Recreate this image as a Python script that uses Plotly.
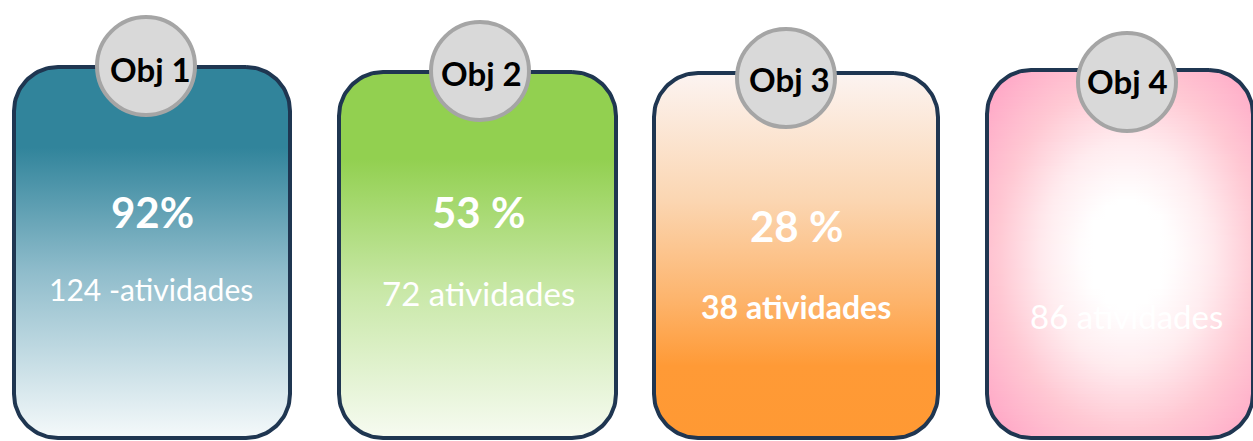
import numpy as np
import plotly.graph_objects as go

# ---- data (text values) ----
objectives = ["Obj 1", "Obj 2", "Obj 3", "Obj 4"]
percent_labels = ["92%", "53 %", "28 %", ""]
activity_labels = ["124 -atividades", "72 atividades", "38 atividades", "86 atividades"]

# ---- layout / styling (pixel geometry, not data) ----
W, H = 1253, 441
cards = [  # left, right, top, bottom (outer border edges)
    (12, 292, 65, 440),
    (337, 618, 70, 440),
    (652, 940, 71, 440),
    (985, 1255, 68, 440),
]
circles = [  # cx, cy, r
    (146, 66, 51),
    (480, 71, 51),
    (786, 78, 51),
    (1127, 82, 51),
]
obj_text_pos = [(150, 69), (481, 73), (789, 79), (1127, 81)]
pct_pos = [(152, 212), (478, 212), (796, 226), (1126, 230)]
act_pos = [(151, 289), (478, 293), (796, 306), (1126, 316)]
act_bold = [False, False, True, False]
act_size = [30, 33, 32, 33]
gradients = [
    dict(type="vertical", colorscale=[[0, "#31849b"], [0.22, "#31849b"], [0.55, "#8fbccb"], [1, "#f6fafb"]]),
    dict(type="vertical", colorscale=[[0, "#92d050"], [0.24, "#92d050"], [0.6, "#c9e8a8"], [1, "#f7fbf2"]]),
    dict(type="vertical", colorscale=[[0, "#fcf4f2"], [0.35, "#fbd6b2"], [0.62, "#fdb46c"], [0.8, "#ff9a36"], [1, "#ff9933"]]),
    dict(type="radial", colorscale=[[0, "#ffffff"], [0.22, "#ffffff"], [0.45, "#ffecef"],
                                    [0.7, "#ffc8d3"], [1, "#ffa6c6"]],
         centre=(1127, 255), radii=(185, 250)),
]
BORDER = "#1f3651"
LW = 4
RAD = 44
FONT = "Lato"


def hex2rgb(c):
    c = c.lstrip("#")
    return np.array([int(c[k:k + 2], 16) for k in (0, 2, 4)], dtype=float)


def scale_color(stops, t):
    t = min(max(t, 0.0), 1.0)
    for (t0, c0), (t1, c1) in zip(stops[:-1], stops[1:]):
        if t <= t1:
            f = 0 if t1 == t0 else (t - t0) / (t1 - t0)
            rgb = hex2rgb(c0) * (1 - f) + hex2rgb(c1) * f
            return "rgb(%d,%d,%d)" % tuple(np.round(rgb))
    return stops[-1][1]


def rounded_rect(x0, x1, y0, y1, r):
    xs, ys = [], []
    corners = [
        (x1 - r, y0 + r, -90, 0),
        (x1 - r, y1 - r, 0, 90),
        (x0 + r, y1 - r, 90, 180),
        (x0 + r, y0 + r, 180, 270),
    ]
    for cx, cy, a0, a1 in corners:
        t = np.radians(np.linspace(a0, a1, 24))
        xs.extend(cx + r * np.cos(t))
        ys.extend(cy + r * np.sin(t))
    xs.append(xs[0])
    ys.append(ys[0])
    return xs, ys


def x_extent(y, x0, x1, y0, y1, r):
    off = 0.0
    if y < y0 + r:
        dy = y0 + r - y
        off = r - np.sqrt(max(r * r - dy * dy, 0))
    elif y > y1 - r:
        dy = y - (y1 - r)
        off = r - np.sqrt(max(r * r - dy * dy, 0))
    return x0 + off, x1 - off


fig = go.Figure()
for i, (x0, x1, y0, y1) in enumerate(cards):
    h = LW / 2
    ix0, ix1, iy0, iy1 = x0 + h, x1 - h, y0 + h, y1 - h
    xs, ys = rounded_rect(ix0, ix1, iy0, iy1, RAD)
    g = gradients[i]
    if g["type"] == "vertical":
        fig.add_trace(go.Scatter(
            x=xs, y=ys, mode="lines", fill="toself",
            fillgradient=dict(type="vertical", colorscale=g["colorscale"], start=y0, stop=y1),
            line=dict(width=0), hoverinfo="skip", showlegend=False,
        ))
    else:
        # radial glow: thin horizontal bands, each with its own horizontal gradient
        cx, cy = g["centre"]
        rx, ry = g["radii"]
        step = 3.0
        ya = iy0
        while ya < iy1:
            yb = min(ya + step, iy1)
            yb2 = min(yb + 0.9, iy1)
            la, ra = x_extent(ya, ix0, ix1, iy0, iy1, RAD)
            lb, rb = x_extent(yb2, ix0, ix1, iy0, iy1, RAD)
            xmin, xmax = min(la, lb), max(ra, rb)
            ym = (ya + yb) / 2
            cs = []
            for f in np.linspace(0, 1, 21):
                xx = xmin + f * (xmax - xmin)
                d = np.hypot((xx - cx) / rx, (ym - cy) / ry)
                cs.append([float(f), scale_color(g["colorscale"], d)])
            fig.add_trace(go.Scatter(
                x=[la, ra, rb, lb, la], y=[ya, ya, yb2, yb2, ya], mode="lines", fill="toself",
                fillgradient=dict(type="horizontal", colorscale=cs, start=xmin, stop=xmax),
                line=dict(width=0), hoverinfo="skip", showlegend=False,
            ))
            ya = yb
    fig.add_trace(go.Scatter(
        x=xs, y=ys, mode="lines",
        line=dict(color=BORDER, width=LW),
        hoverinfo="skip", showlegend=False,
    ))

for (cx, cy, r) in circles:
    fig.add_shape(type="circle", xref="x", yref="y",
                  x0=cx - r + 2, x1=cx + r - 2, y0=cy - r + 2, y1=cy + r - 2,
                  fillcolor="#d9d9d9", line=dict(color="#a5a5a5", width=4))

for i, name in enumerate(objectives):
    x, y = obj_text_pos[i]
    fig.add_annotation(x=x, y=y, text="<b>%s</b>" % name, showarrow=False,
                       font=dict(family=FONT, size=33, color="#000000"),
                       xanchor="center", yanchor="middle")
    if percent_labels[i]:
        x, y = pct_pos[i]
        fig.add_annotation(x=x, y=y, text="<b>%s</b>" % percent_labels[i], showarrow=False,
                           font=dict(family=FONT, size=42, color="#ffffff"),
                           xanchor="center", yanchor="middle")
    x, y = act_pos[i]
    txt = "<b>%s</b>" % activity_labels[i] if act_bold[i] else activity_labels[i]
    fig.add_annotation(x=x, y=y, text=txt, showarrow=False,
                       font=dict(family=FONT, size=act_size[i], color="#ffffff"),
                       xanchor="center", yanchor="middle")

fig.update_layout(
    width=W, height=H,
    margin=dict(l=0, r=0, t=0, b=0),
    paper_bgcolor="#ffffff", plot_bgcolor="#ffffff",
    xaxis=dict(range=[0, W], visible=False, fixedrange=True),
    yaxis=dict(range=[H, 0], visible=False, fixedrange=True),
    showlegend=False,
)
fig.write_html("out.html", config={"displayModeBar": False},
               post_script="document.body.style.margin='0';document.body.style.padding='0';"
                           "document.body.style.overflow='hidden';")
